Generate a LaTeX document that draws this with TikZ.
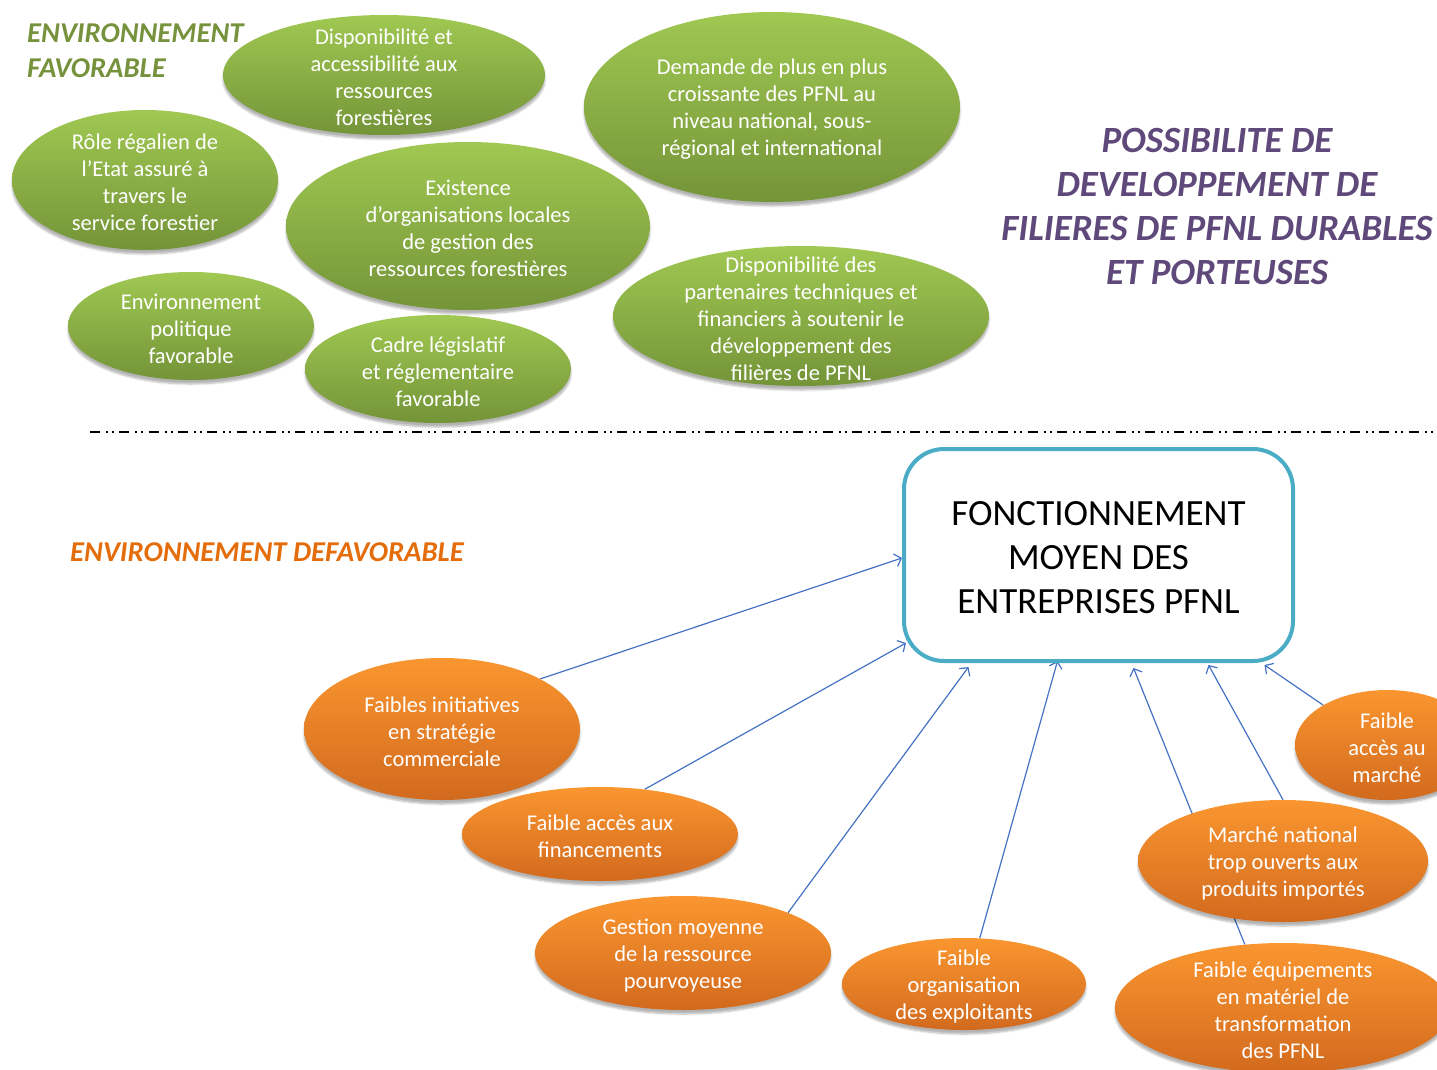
\documentclass[tikz,border=0pt]{standalone}
\usepackage{fontspec}
\setmainfont{Carlito}
\usetikzlibrary{shapes.geometric,shadows.blur,arrows.meta,backgrounds}

\definecolor{greenTop}{RGB}{160,200,82}
\definecolor{greenBot}{RGB}{116,148,56}
\definecolor{orangeTop}{RGB}{250,150,48}
\definecolor{orangeBot}{RGB}{210,106,30}
\definecolor{favgreen}{RGB}{118,146,60}
\definecolor{defavorange}{RGB}{228,108,10}
\definecolor{titlepurple}{RGB}{95,73,122}
\definecolor{boxblue}{RGB}{75,172,198}
\definecolor{arrowblue}{RGB}{68,114,196}

\begin{document}
\begin{tikzpicture}[x=1pt,y=-1pt,
  bubble/.style={ellipse, inner sep=0pt,
    blur shadow={shadow xshift=0pt, shadow yshift=-4pt, shadow opacity=30, shadow blur steps=6}},
  greenbubble/.style={bubble, top color=greenTop, bottom color=greenBot},
  orangebubble/.style={bubble, top color=orangeTop, bottom color=orangeBot},
  btext/.style={text=white, align=center, inner sep=0pt, yshift=-2.5pt, font=\fontsize{22.5}{27}\selectfont},
  heading/.style={font=\fontsize{28.7}{35}\selectfont\bfseries\itshape, inner sep=0pt},
  link/.style={draw=arrowblue, line width=1.2pt, -{Straight Barb[length=6pt,width=13pt,line width=1.2pt]}},
]
\useasboundingbox (0,0) rectangle (1437,1070);
\clip (0,0) rectangle (1437,1070);

% ---- favourable environment ----
\node[heading, text=favgreen, align=left, anchor=west]
  (fav) at (27,51) {ENVIRONNEMENT\\FAVORABLE};

\node[greenbubble, minimum width=322pt, minimum height=120pt,
  label={[btext]center:Disponibilité et\\accessibilité aux\\ressources\\forestières}] (dispo) at (384,75) {};
\node[greenbubble, minimum width=266pt, minimum height=140pt,
  label={[btext]center:Rôle régalien de\\l’Etat assuré à\\travers le\\service forestier}] (role) at (145,180) {};
\node[greenbubble, minimum width=364pt, minimum height=168pt,
  label={[btext]center:Existence\\d’organisations locales\\de gestion des\\ressources forestières}] (orgloc) at (468,226) {};
\node[greenbubble, minimum width=376pt, minimum height=190pt,
  label={[btext]center:Demande de plus en plus\\croissante des PFNL au\\niveau national, sous-\\régional et international}] (demande) at (772,107) {};
\node[greenbubble, minimum width=376pt, minimum height=140pt,
  label={[btext]center:Disponibilité des\\partenaires techniques et\\financiers à soutenir le\\développement des\\filières de PFNL}] (partenaires) at (801,316) {};
\node[greenbubble, minimum width=246pt, minimum height=108pt,
  label={[btext]center:Environnement\\politique\\favorable}] (politique) at (191,326) {};
\node[greenbubble, minimum width=266pt, minimum height=108pt,
  label={[btext]center:Cadre législatif\\et réglementaire\\favorable}] (cadre) at (438,369) {};

\node[font=\fontsize{37}{44}\selectfont\bfseries\itshape, text=titlepurple, align=center, inner sep=0pt]
  (titre) at (1217,207) {POSSIBILITE DE\\DEVELOPPEMENT DE\\FILIERES DE PFNL DURABLES\\ET PORTEUSES};

% ---- separator ----
\coordinate (sepL) at (90,432);
\coordinate (sepR) at (1437,432);
\draw[line width=2pt, dash pattern=on 10pt off 6pt on 2pt off 4pt on 2pt off 5.3pt] (sepL) -- (sepR);

% ---- unfavourable environment ----
\node[heading, text=defavorange, anchor=west]
  (defav) at (70,552) {ENVIRONNEMENT DEFAVORABLE};

\node[draw=boxblue, line width=4pt, rounded corners=40pt, minimum width=389pt, minimum height=212pt,
  fill=white, inner sep=0pt,
  label={[align=center, inner sep=0pt, yshift=-3pt, font=\fontsize{37}{44}\selectfont]center:FONCTIONNEMENT\\MOYEN DES\\ENTREPRISES PFNL}]
  (box) at (1098.5,555) {};

\node[orangebubble, minimum width=276pt, minimum height=142pt,
  label={[btext]center:Faibles initiatives\\en stratégie\\commerciale}] (strat) at (442,729) {};
\node[orangebubble, minimum width=276pt, minimum height=94pt,
  label={[btext]center:Faible accès aux\\financements}] (fin) at (600,834) {};
\node[orangebubble, minimum width=296pt, minimum height=114pt,
  label={[btext]center:Gestion moyenne\\de la ressource\\pourvoyeuse}] (gestion) at (683,953) {};
\node[orangebubble, minimum width=244pt, minimum height=92pt,
  label={[btext]center:Faible\\organisation\\des exploitants}] (orga) at (964,984) {};
\node[orangebubble, minimum width=336pt, minimum height=130pt,
  label={[btext]center:Faible équipements\\en matériel de\\transformation\\des PFNL}] (equip) at (1283,1008) {};
\node[orangebubble, minimum width=290pt, minimum height=122pt,
  label={[btext]center:Marché national\\trop ouverts aux\\produits importés}] (marche) at (1283,861) {};
\node[orangebubble, minimum width=184pt, minimum height=110pt,
  label={[btext]center:Faible\\accès au\\marché}] (acces) at (1387,745) {};

% ---- links into the central box (kept behind the bubbles) ----
\begin{pgfonlayer}{background}
  \draw[link] (strat.27) -- ([yshift=-3pt]box.west);
  \draw[link] (fin.45) -- ([shift={(4,-20)}]box.south west);
  \draw[link] (gestion.21) -- ([shift={(-130,4)}]box.south);
  \draw[link] (orga.71) -- ([shift={(-41,-2)}]box.south);
  \draw[link] (equip.121) -- ([shift={(35,5)}]box.south);
  \draw[link] (marche.north) -- ([shift={(110,2)}]box.south);
  \draw[link] (acces.148) -- ([shift={(166,2)}]box.south);
\end{pgfonlayer}
\end{tikzpicture}
\end{document}
